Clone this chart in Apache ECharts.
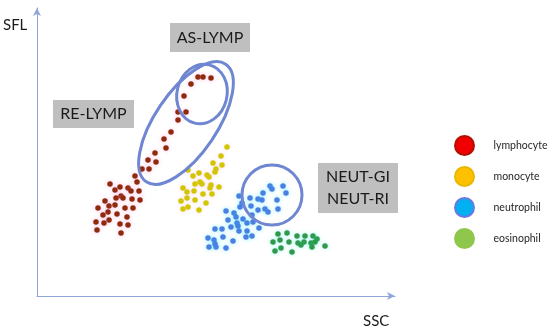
<!DOCTYPE html>
<html><head><meta charset="utf-8">
<script src="https://cdn.jsdelivr.net/npm/echarts@6/dist/echarts.min.js"></script>
<style>html,body{margin:0;padding:0;background:#fff}#c{width:550px;height:329px}</style>
</head><body><div id="c"></div>
<script>
// ---- data (SSC, SFL) ----
const seriesNames = ['lymphocyte', 'monocyte', 'neutrophil', 'eosinophil'];
const lymphocyte = [
  [161,219],[166,219],[174,218],[154,212],[147,200],[141,184],[149,184],[141,176],
  [134,164],[127,157],[129,148],[118,143],[111,136],[119,134],[112,127],[105,127],
  [98,120],[100,114],[73,112],[78,106],[83,109],[91,108],[94,105],[102,105],
  [84,100],[86,98],[79,98],[95,97],[103,96],[68,95],[72,90],[78,91],[88,88],
  [96,88],[61,88],[71,84],[66,81],[80,82],[90,79],[72,76],[67,73],[59,74],
  [83,72],[91,71],[60,66],[84,63]
];
const monocyte = [
  [190,149],[184,140],[176,133],[185,131],[179,127],[178,124],[151,126],[156,120],
  [162,123],[170,121],[172,119],[165,112],[163,114],[158,112],[174,111],[173,108],
  [182,109],[146,108],[150,104],[157,105],[166,102],[175,102],[150,98],[144,95],
  [158,96],[169,93],[146,87],[151,89],[162,86]
];
const neutrophil = [
  [233,110],[235,107],[246,110],[249,103],[226,103],[221,97],[225,96],[213,98],
  [202,100],[240,96],[241,87],[205,93],[214,90],[221,86],[228,87],[231,84],
  [203,89],[189,85],[197,83],[215,81],[206,77],[200,73],[191,76],[201,70],
  [194,69],[210,73],[216,74],[222,68],[210,65],[202,65],[185,67],[178,67],
  [171,58],[177,56],[186,59],[196,55],[209,59],[215,60],[189,48],[179,49],
  [172,49],[178,52],[199,79]
];
const eosinophil = [
  [241,62],[250,63],[260,60],[268,60],[276,60],[280,57],[236,54],[243,56],
  [252,54],[261,53],[267,54],[274,53],[278,54],[275,49],[288,50],[238,45],
  [244,48],[255,44],[264,51]
];
// gates: [centerX, centerY, radiusMajor, radiusMinor, angleDeg]
const gates = [
  [149, 173, 71, 31, 56],
  [165, 202, 30, 25, 76],
  [235, 101, 30, 30, 0]
];
const gateLabels = [['AS-LYMP'], ['RE-LYMP'], ['NEUT-GI', 'NEUT-RI']];
const axisNames = ['SSC', 'SFL'];

// ---- styles ----
const dotColors = ['#8f2a0c', '#d2c600', '#4b7fe2', '#2f9a49'];
const haloColors = ['rgba(255,120,200,0.45)', 'rgba(255,170,210,0.35)', 'rgba(0,220,255,0.45)', 'rgba(0,230,230,0.35)'];
const legendColors = ['#f00000', '#ffc000', '#00b0f0', '#8fc74c'];
const legendBorders = ['#b01000', '#e8b800', '#6a78e0', '#8fc74c'];
const seriesData = [lymphocyte, monocyte, neutrophil, eosinophil];
const FONT = 'Lato, "Open Sans", sans-serif';
const axisColor = '#8ea6da';

const chart = echarts.init(document.getElementById('c'), null, {renderer: 'canvas'});

const scatterSeries = seriesNames.map((n, i) => ({
  name: n, type: 'scatter', data: seriesData[i], symbolSize: 5.5,
  itemStyle: {color: dotColors[i], shadowBlur: 4, shadowColor: haloColors[i], opacity: 1},
  emphasis: {disabled: true}, z: 3
}));

const gateSeries = {
  type: 'custom', silent: true, z: 4, clip: false,
  data: gates,
  renderItem: function (params, api) {
    const c = api.coord([api.value(0), api.value(1)]);
    const s = api.size([api.value(2), api.value(3)]);
    return {
      type: 'ellipse', x: c[0], y: c[1], rotation: api.value(4) * Math.PI / 180,
      shape: {cx: 0, cy: 0, rx: s[0], ry: s[1]},
      style: {fill: 'none', stroke: '#6f86d2', lineWidth: 3}
    };
  }
};

function box(x, y, w, h, lines) {
  const children = [{type: 'rect', shape: {x: 0, y: 0, width: w, height: h}, style: {fill: '#bfbfbf'}}];
  const lh = 22;
  const start = h / 2 - (lines.length - 1) * lh / 2;
  lines.forEach((t, k) => children.push({
    type: 'text', x: w / 2, y: start + k * lh,
    style: {text: t, fill: '#1a1a1a', font: '16px ' + FONT, textAlign: 'center', textVerticalAlign: 'middle'}
  }));
  return {type: 'group', x: x, y: y, children: children};
}

chart.setOption({
  animation: false,
  backgroundColor: '#ffffff',
  grid: {left: 37, top: 8, width: 358, height: 288},
  xAxis: {
    type: 'value', min: 0, max: 358,
    axisLine: {show: true, lineStyle: {color: axisColor, width: 1}, symbol: ['none', 'arrow'], symbolSize: [6, 8]},
    axisTick: {show: false}, axisLabel: {show: false}, splitLine: {show: false}
  },
  yAxis: {
    type: 'value', min: 0, max: 288,
    axisLine: {show: true, lineStyle: {color: axisColor, width: 1}, symbol: ['none', 'arrow'], symbolSize: [6, 8]},
    axisTick: {show: false}, axisLabel: {show: false}, splitLine: {show: false}
  },
  legend: {
    orient: 'vertical', left: 449, top: 130, itemWidth: 48, itemHeight: 19, itemGap: 10,
    icon: 'circle', selectedMode: false,
    textStyle: {fontSize: 10.5, color: '#262626', fontFamily: FONT},
    data: seriesNames.map((n, i) => ({name: n, itemStyle: {color: legendColors[i], borderColor: legendBorders[i], borderWidth: 2, shadowBlur: 0}}))
  },
  graphic: [
    box(170, 23, 80, 29, gateLabels[0]),
    box(53, 100, 81, 28, gateLabels[1]),
    box(318, 163, 80, 50, gateLabels[2]),
    {type: 'text', x: 3, y: 25, style: {text: axisNames[1], fill: '#1a1a1a', font: '15px ' + FONT, textVerticalAlign: 'middle'}},
    {type: 'text', x: 363, y: 321, style: {text: axisNames[0], fill: '#1a1a1a', font: '15px ' + FONT, textVerticalAlign: 'middle'}}
  ],
  series: scatterSeries.concat([gateSeries])
});
</script></body></html>
